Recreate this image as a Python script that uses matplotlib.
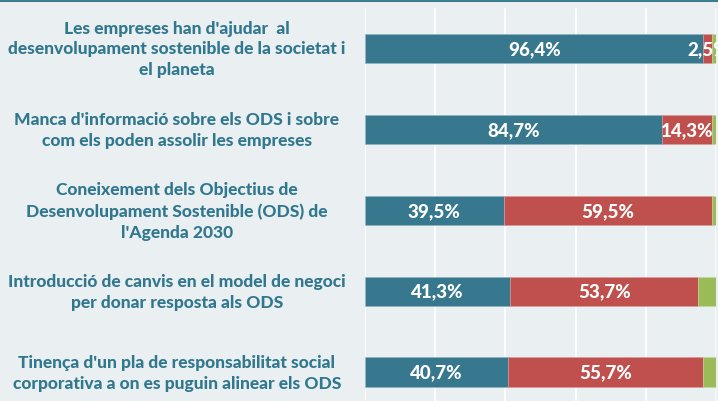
import matplotlib.pyplot as plt
import numpy as np

# Categories (top to bottom)
categories = [
    "Les empreses han d'ajudar  al\ndesenvolupament sostenible de la societat i\nel planeta",
    "Manca d'informació sobre els ODS i sobre\ncom els poden assolir les empreses",
    "Coneixement dels Objectius de\nDesenvolupament Sostenible (ODS) de\nl'Agenda 2030",
    "Introducció de canvis en el model de negoci\nper donar resposta als ODS",
    "Tinença d'un pla de responsabilitat social\ncorporativa a on es puguin alinear els ODS",
]
serie_a = [96.4, 84.7, 39.5, 41.3, 40.7]
serie_b = [2.5, 14.3, 59.5, 53.7, 55.7]
serie_c = [1.1, 1.0, 1.0, 5.0, 3.6]

teal = '#37788E'
red = '#C0504D'
green = '#9BBB59'
bg = '#EAEFF2'
text_col = '#31788F'

plt.rcParams['font.family'] = ['Lato', 'DejaVu Sans']

fig = plt.figure(figsize=(7.18, 4.02), dpi=100, facecolor=bg)
ax = fig.add_axes([365 / 718, -11.5 / 402, 351 / 718, 404.5 / 402])
ax.set_facecolor(bg)

y = np.arange(len(categories))
h = 0.36
a = np.array(serie_a)
b = np.array(serie_b)
c = np.array(serie_c)
ax.barh(y, a, height=h, color=teal, edgecolor='#8FB3C0', linewidth=0.4, zorder=3)
ax.barh(y, b, left=a, height=h, color=red, edgecolor='#D89A98', linewidth=0.4, zorder=3)
ax.barh(y, c, left=a + b, height=h, color=green, edgecolor='#C5D8A0', linewidth=0.4, zorder=3)

for i in range(len(categories)):
    ax.text(a[i] / 2, y[i], f"{a[i]:.1f}%".replace('.', ','), ha='center', va='center',
            color='white', fontsize=13.5, fontweight='black', zorder=5)
    ax.text(a[i] + b[i] / 2, y[i], f"{b[i]:.1f}%".replace('.', ','), ha='center', va='center',
            color='white', fontsize=13.5, fontweight='black', zorder=5, clip_on=False)

ax.set_xlim(0, 100)
ax.set_ylim(len(categories) - 0.5, -0.5)
ax.set_xticks(np.arange(0, 101, 20))
ax.set_yticks([])
ax.tick_params(axis='x', length=0, labelbottom=False)
ax.grid(axis='x', color='white', linewidth=1.2, zorder=0)
for s in ax.spines.values():
    s.set_visible(False)

# category labels, centred in the left area
for i, lab in enumerate(categories):
    disp = ax.transData.transform((0, y[i]))
    fy = fig.transFigure.inverted().transform(disp)[1]
    fig.text(177 / 718, fy, lab, ha='center', va='center', multialignment='center',
             color=text_col, fontsize=12.5, fontweight='black', linespacing=1.38)

# top border line
fig.add_artist(plt.Line2D([0, 1], [1 - 1 / 402, 1 - 1 / 402], color='#3E7C90',
                          linewidth=2.2, transform=fig.transFigure))

fig.savefig('out.png', dpi=100, facecolor=bg)
